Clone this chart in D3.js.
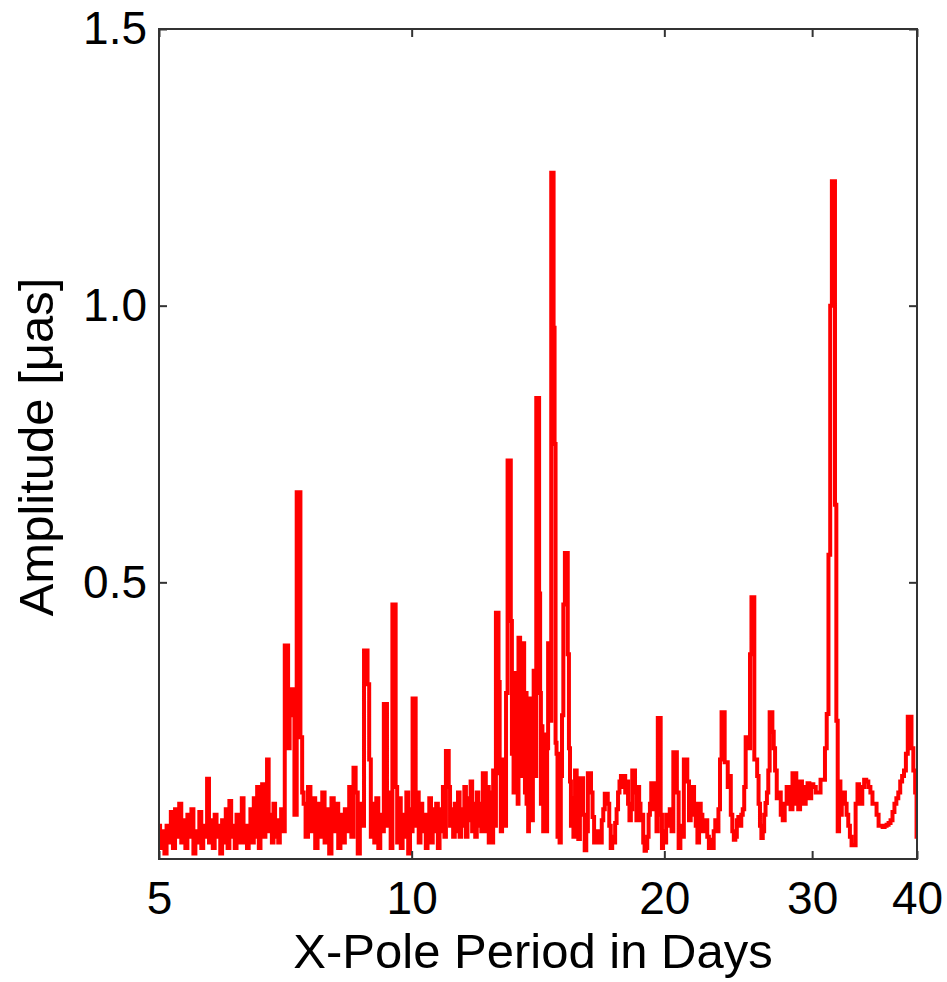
<!DOCTYPE html>
<html>
<head>
<meta charset="utf-8">
<script src="https://cdn.jsdelivr.net/npm/d3@7"></script>
<style>
  html, body { margin: 0; padding: 0; background: #fff; }
  svg { display: block; }
  text { font-family: "Liberation Sans", Arial, Helvetica, sans-serif; fill: #000; }
</style>
</head>
<body>
<svg id="chart" width="947" height="982"></svg>
<script>
// ---- Data: [period (days), amplitude (µas)] ----
const band5to7 = [
  [5.00,0.06],[5.03,0.02],[5.06,0.05],[5.09,0.01],[5.12,0.06],[5.15,0.03],[5.18,0.085],[5.21,0.02],
  [5.24,0.09],[5.27,0.04],[5.30,0.10],[5.33,0.03],[5.36,0.07],[5.39,0.02],[5.42,0.08],[5.45,0.04],
  [5.48,0.09],[5.51,0.01],[5.54,0.05],[5.57,0.03],[5.60,0.085],[5.63,0.02],[5.66,0.06],[5.69,0.04],
  [5.72,0.145],[5.75,0.03],[5.78,0.07],[5.81,0.02],[5.84,0.08],[5.87,0.04],[5.90,0.06],[5.93,0.01],
  [5.96,0.07],[5.99,0.03],[6.02,0.09],[6.05,0.02],[6.08,0.105],[6.11,0.04],[6.14,0.06],[6.17,0.02],
  [6.20,0.08],[6.23,0.03],[6.26,0.07],[6.29,0.11],[6.32,0.03],[6.35,0.06],[6.38,0.02],[6.41,0.05],
  [6.44,0.09],[6.47,0.03],[6.50,0.11],[6.53,0.04],[6.56,0.13],[6.59,0.02],[6.62,0.07],[6.65,0.135],
  [6.68,0.04],[6.71,0.09],[6.74,0.18],[6.77,0.05],[6.80,0.08],[6.83,0.03],[6.86,0.10],[6.89,0.04],
  [6.92,0.07],[6.95,0.03],[6.98,0.06]
];
const band7to10 = [
  [7.00,0.09],[7.04,0.05],[7.08,0.386],[7.11,0.386],[7.14,0.20],[7.17,0.307],[7.20,0.26],[7.23,0.307],
  [7.27,0.08],[7.32,0.663],[7.35,0.663],[7.39,0.22],[7.42,0.12],[7.45,0.10],[7.50,0.04],[7.55,0.13],[7.60,0.05],
  [7.65,0.11],[7.70,0.02],[7.75,0.10],[7.80,0.04],[7.85,0.12],[7.90,0.03],[7.95,0.09],[8.00,0.01],
  [8.05,0.11],[8.10,0.05],[8.15,0.10],[8.20,0.02],[8.25,0.08],[8.30,0.03],[8.35,0.09],[8.40,0.05],
  [8.45,0.13],[8.50,0.04],[8.55,0.165],[8.60,0.12],[8.65,0.01],[8.70,0.10],[8.75,0.06],[8.80,0.377],
  [8.84,0.377],[8.88,0.316],[8.92,0.18],[8.96,0.04],[9.00,0.10],[9.05,0.03],[9.10,0.11],[9.15,0.02],
  [9.20,0.08],[9.25,0.05],[9.28,0.28],[9.32,0.28],[9.37,0.06],[9.42,0.12],[9.46,0.02],[9.51,0.46],
  [9.55,0.46],[9.59,0.13],[9.63,0.03],[9.68,0.11],[9.73,0.02],[9.78,0.08],[9.83,0.04],[9.88,0.12],
  [9.93,0.01],[9.98,0.09]
];
const band10to15 = [
  [10.00,0.05],[10.05,0.29],[10.09,0.29],[10.13,0.06],[10.17,0.12],[10.22,0.03],[10.27,0.10],[10.32,0.05],
  [10.37,0.08],[10.42,0.02],[10.47,0.07],[10.52,0.11],[10.57,0.03],[10.62,0.09],[10.67,0.05],[10.72,0.10],
  [10.77,0.02],[10.82,0.09],[10.87,0.05],[10.92,0.13],[10.96,0.04],[11.01,0.195],[11.05,0.195],[11.09,0.13],
  [11.13,0.06],[11.18,0.09],[11.23,0.04],[11.28,0.10],[11.33,0.05],[11.38,0.12],[11.43,0.04],[11.48,0.09],
  [11.53,0.06],[11.58,0.13],[11.63,0.04],[11.68,0.11],[11.73,0.07],[11.78,0.14],[11.83,0.05],[11.88,0.10],
  [11.93,0.04],[11.98,0.12],[12.03,0.06],[12.08,0.10],[12.13,0.05],[12.18,0.155],[12.23,0.155],[12.28,0.05],
  [12.33,0.13],[12.38,0.03],[12.43,0.12],[12.48,0.03],[12.53,0.16],[12.58,0.06],[12.62,0.445],[12.67,0.445],
  [12.71,0.32],[12.75,0.155],[12.79,0.05],[12.84,0.18],[12.89,0.18],[12.93,0.06],[12.98,0.30],[13.04,0.72],
  [13.10,0.72],[13.15,0.43],[13.18,0.19],[13.21,0.30],[13.24,0.12],[13.27,0.336],[13.30,0.336],[13.33,0.15],
  [13.36,0.28],[13.39,0.10],[13.42,0.40],[13.45,0.40],[13.48,0.20],[13.51,0.33],[13.54,0.15],[13.57,0.39],
  [13.60,0.39],[13.63,0.18],[13.66,0.12],[13.69,0.30],[13.72,0.10],[13.75,0.22],[13.78,0.05],[13.81,0.18],
  [13.84,0.29],[13.87,0.29],[13.90,0.12],[13.93,0.07],[13.96,0.20],[13.99,0.34],[14.02,0.34],[14.05,0.15],
  [14.10,0.833],[14.16,0.833],[14.21,0.48],[14.24,0.30],[14.27,0.10],[14.30,0.24],[14.33,0.12],[14.36,0.05],
  [14.39,0.225],[14.42,0.15],[14.45,0.225],[14.48,0.05],[14.52,0.20],[14.56,0.39],[14.60,0.39],[14.64,0.25],
  [14.69,1.24],[14.74,1.24],[14.78,0.96],[14.82,0.75],
  [14.86,0.21],[14.90,0.19],[14.94,0.04],[14.98,0.19],[15.03,0.03],[15.08,0.15],[15.13,0.26],[15.19,0.46],
  [15.26,0.553],[15.32,0.553],[15.37,0.37],[15.42,0.20],[15.46,0.14],[15.50,0.06]
];
const band15to20 = [
  [15.55,0.11],[15.62,0.04],[15.69,0.16],[15.76,0.10],[15.83,0.036],[15.90,0.146],[15.97,0.146],[16.04,0.08],
  [16.11,0.016],[16.18,0.05],[16.25,0.155],[16.32,0.155],[16.39,0.12],[16.46,0.076],[16.53,0.03],[16.60,0.05],
  [16.67,0.03],[16.74,0.05],[16.81,0.03],[16.88,0.07],[16.95,0.09],[17.02,0.118],[17.09,0.118],[17.16,0.10],
  [17.23,0.06],[17.30,0.02],[17.37,0.04],[17.44,0.03],[17.51,0.065],[17.58,0.09],[17.65,0.12],[17.72,0.14],
  [17.79,0.15],[17.86,0.13],[17.93,0.15],[18.00,0.12],[18.07,0.14],[18.14,0.10],[18.21,0.07],[18.28,0.09],
  [18.35,0.16],[18.42,0.16],[18.49,0.12],[18.56,0.07],[18.63,0.13],[18.70,0.10],[18.77,0.07],[18.84,0.08],
  [18.91,0.03],[18.98,0.015],[19.05,0.02],[19.12,0.04],[19.19,0.08],[19.26,0.10],[19.33,0.137],[19.40,0.137],
  [19.47,0.09],[19.54,0.11],[19.61,0.05],[19.68,0.255],[19.76,0.255],[19.84,0.08],[19.90,0.02],
  [19.96,0.05]
];
const band20to30 = [
  [20.05,0.03],[20.15,0.08],[20.25,0.06],[20.35,0.09],[20.45,0.05],[20.55,0.193],[20.65,0.193],[20.75,0.12],
  [20.85,0.02],[20.95,0.06],[21.05,0.04],[21.15,0.18],[21.25,0.18],[21.35,0.14],[21.45,0.07],[21.55,0.08],
  [21.65,0.13],[21.75,0.10],[21.85,0.06],[21.95,0.03],[22.05,0.10],[22.15,0.08],[22.25,0.05],[22.35,0.07],
  [22.45,0.07],[22.55,0.04],[22.65,0.02],[22.75,0.035],[22.85,0.02],[22.95,0.05],[23.05,0.07],[23.15,0.05],
  [23.25,0.09],[23.35,0.18],[23.45,0.265],[23.55,0.265],[23.65,0.175],[23.75,0.175],[23.85,0.13],[23.95,0.15],
  [24.05,0.08],[24.15,0.05],[24.25,0.035],[24.35,0.04],[24.45,0.07],[24.55,0.076],[24.65,0.06],[24.75,0.08],
  [24.85,0.09],[24.95,0.13],[25.05,0.22],[25.15,0.22],[25.25,0.20],[25.35,0.37],[25.45,0.473],[25.55,0.473],
  [25.65,0.18],[25.75,0.18],[25.85,0.15],[25.95,0.10],[26.05,0.06],[26.15,0.038],[26.25,0.05],[26.35,0.08],
  [26.45,0.101],[26.55,0.12],[26.65,0.16],[26.75,0.265],[26.85,0.265],[26.95,0.23],[27.05,0.20],[27.15,0.16],
  [27.30,0.11],[27.45,0.12],[27.60,0.08],[27.75,0.07],[27.90,0.10],[28.05,0.13],[28.20,0.11],[28.35,0.09],
  [28.50,0.155],[28.65,0.155],[28.80,0.10],[28.95,0.09],[29.10,0.14],[29.25,0.12],[29.40,0.10],[29.55,0.13],
  [29.70,0.137],[29.85,0.11]
];
const band30to40 = [
  [30.00,0.135],[30.20,0.13],[30.40,0.12],[30.60,0.12],[30.80,0.143],[31.00,0.143],[31.15,0.20],[31.30,0.262],
  [31.45,0.55],[31.60,1.00],[31.74,1.225],[31.88,1.225],[32.00,0.64],[32.12,0.25],[32.24,0.05],
  [32.36,0.14],[32.48,0.08],[32.60,0.10],[32.75,0.12],[32.90,0.10],[33.05,0.08],[33.20,0.06],[33.35,0.04],
  [33.50,0.025],[33.70,0.025],[33.90,0.10],[34.05,0.135],[34.20,0.11],[34.35,0.10],[34.50,0.13],[34.70,0.143],
  [34.90,0.14],[35.10,0.13],[35.30,0.12],[35.50,0.10],[35.70,0.10],[35.90,0.08],[36.10,0.06],[36.30,0.06],
  [36.50,0.058],[36.70,0.06],[36.90,0.062],[37.10,0.065],[37.30,0.07],[37.50,0.085],[37.70,0.10],[37.90,0.11],
  [38.10,0.12],[38.30,0.14],[38.50,0.15],[38.70,0.16],[38.90,0.19],[39.10,0.257],[39.30,0.257],[39.50,0.20],
  [39.70,0.16],[39.90,0.12],[40.00,0.04]
];

const xTickValues = [5, 10, 20, 30, 40];
const xTickLabels = ["5", "10", "20", "30", "40"];
const yTickValues = [0.5, 1.0, 1.5];
const yTickLabels = ["0.5", "1.0", "1.5"];
const xLabel = "X-Pole Period in Days";
const yLabel = "Amplitude [\u03BCas]";

const spectrum = [].concat(band5to7, band7to10, band10to15, band15to20, band20to30, band30to40);

// ---- Layout ----
const pL = 159, pR = 917, pT = 29, pB = 859;
const svg = d3.select("#chart");

const x = d3.scaleLog().domain([5, 40]).range([pL, pR]);
const y = d3.scaleLinear().domain([0, 1.5]).range([pB, pT]);

svg.append("defs").append("clipPath").attr("id", "plotclip")
  .append("rect").attr("x", pL).attr("y", pT).attr("width", pR - pL).attr("height", pB - pT);

// ---- Line ----
const line = d3.line()
  .x(d => x(d[0]))
  .y(d => y(d[1]))
  .curve(d3.curveStep);

svg.append("path")
  .datum(spectrum)
  .attr("clip-path", "url(#plotclip)")
  .attr("fill", "none")
  .attr("stroke", "#ff0000")
  .attr("stroke-width", 4)
  .attr("stroke-linejoin", "miter")
  .attr("d", line);

// ---- Axes ----
const tickLen = 8;
const fontTick = 46;

const xAxisB = d3.axisBottom(x).tickValues(xTickValues)
  .tickFormat((d, i) => xTickLabels[i]).tickSizeInner(-tickLen).tickSizeOuter(0).tickPadding(22);
const gB = svg.append("g").attr("transform", `translate(0,${pB})`).call(xAxisB);

const xAxisT = d3.axisTop(x).tickValues(xTickValues).tickFormat("").tickSizeInner(-tickLen).tickSizeOuter(0);
const gT = svg.append("g").attr("transform", `translate(0,${pT})`).call(xAxisT);

const yAxisL = d3.axisLeft(y).tickValues(yTickValues)
  .tickFormat((d, i) => yTickLabels[i]).tickSizeInner(-tickLen).tickSizeOuter(0).tickPadding(12);
const gL = svg.append("g").attr("transform", `translate(${pL},0)`).call(yAxisL);

const yAxisR = d3.axisRight(y).tickValues(yTickValues).tickFormat("").tickSizeInner(-tickLen).tickSizeOuter(0);
const gR = svg.append("g").attr("transform", `translate(${pR},0)`).call(yAxisR);

[gB, gT, gL, gR].forEach(g => {
  g.select(".domain").remove();
  g.selectAll(".tick line").attr("stroke", "#333").attr("stroke-width", 2);
  g.selectAll(".tick text")
    .attr("font-family", "'Liberation Sans', Arial, sans-serif")
    .attr("font-size", fontTick).attr("fill", "#000");
});

// frame
svg.append("rect")
  .attr("x", pL).attr("y", pT)
  .attr("width", pR - pL).attr("height", pB - pT)
  .attr("fill", "none").attr("stroke", "#333").attr("stroke-width", 2);

// ---- Labels ----
svg.append("text")
  .attr("x", (pL + pR) / 2 - 5).attr("y", 968)
  .attr("text-anchor", "middle")
  .attr("font-size", 49)
  .text(xLabel);

svg.append("text")
  .attr("transform", `translate(53,${(pT + pB) / 2 + 3}) rotate(-90)`)
  .attr("text-anchor", "middle")
  .attr("font-size", 49)
  .text(yLabel);
</script>
</body>
</html>
